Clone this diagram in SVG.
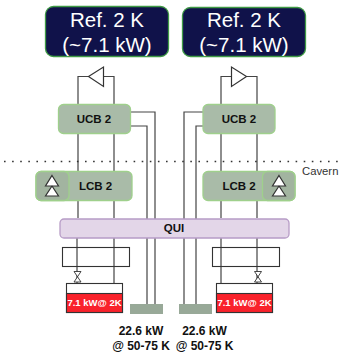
<svg xmlns="http://www.w3.org/2000/svg" width="347" height="357" viewBox="0 0 347 357">
<style>
text{font-family:"Liberation Sans",Arial,sans-serif}
.ref{fill:#10124a;stroke:#3f9a45;stroke-width:1.3}
.reft{fill:#fff;font-size:20.500px;text-anchor:middle}
.box{fill:#a9bba8;stroke:#9fd08c;stroke-width:1.3}
.box2{fill:#a2b4a0;stroke:#9fd08c;stroke-width:1.3}
.b{font-weight:700;font-size:11.500px;fill:#111;text-anchor:middle}
.l{font-weight:700;font-size:12px;fill:#111;text-anchor:middle}
.w{fill:none;stroke:#444;stroke-width:1.2}
.hx{fill:#fff;stroke:#333;stroke-width:1.1}
.tri{fill:#fff;stroke:#333;stroke-width:1.2}
.val{fill:#fff;stroke:#333;stroke-width:.9}
.sink{fill:#98a998}
.red{fill:#f9222b;stroke:#333;stroke-width:1.1}
.rt{fill:#fff;font-weight:700;font-size:9.500px;text-anchor:middle}
</style>
<g id="connectors">
<path class="w" d="M78 104V76.500H114V104M78 133V171M114 133V171M78 200V218M114 200V218M77 238V283M114 238V283"/>
<path class="w" d="M131 112H155V304M131 126H147V304"/>
<path class="w" d="M221 104V76.500H257V104M221 133V171M257 133V171M221 200V218M257 200V218M221 238V283M257 238V283"/>
<path class="w" d="M203 112H184V304M203 126H196V304"/>
<path d="M4 161.500H340" fill="none" stroke="#333" stroke-width="1.6" stroke-dasharray="1.600 6.500"/>
</g>
<g id="ref-left"><rect class="ref" x="45.500" y="6.500" width="123" height="50" rx="8"/><text class="reft" x="107" y="26.500">Ref. 2 K</text><text class="reft" x="107" y="51.500">(~7.1 kW)</text></g>
<g id="ref-right"><rect class="ref" x="182.500" y="7.500" width="123" height="49" rx="8"/><text class="reft" x="244" y="26.500">Ref. 2 K</text><text class="reft" x="244" y="51.500">(~7.1 kW)</text></g>
<g id="turbine-left"><path class="tri" d="M103.500 67V86.500L88.500 76.500Z"/></g>
<g id="turbine-right"><path class="tri" d="M231.500 67V86.500L246.500 76.500Z"/></g>
<g id="ucb-left"><rect class="box" x="58.500" y="104.500" width="72" height="29" rx="5"/><text class="b" x="94" y="122.500">UCB 2</text></g>
<g id="ucb-right"><rect class="box" x="203" y="104.500" width="72" height="29" rx="5"/><text class="b" x="239" y="122.500">UCB 2</text></g>
<g id="lcb-left"><rect class="box" x="36" y="171.500" width="96" height="29" rx="5"/><rect class="box2" x="36" y="171.500" width="33" height="29" rx="5"/><path class="tri" d="M52 175.500L58.500 186H45.500ZM52 186L58.500 196H45.500Z"/><text class="b" x="95.500" y="189.500">LCB 2</text></g>
<g id="lcb-right"><rect class="box" x="203" y="171.500" width="92" height="29" rx="5"/><rect class="box2" x="262.500" y="171.500" width="32.500" height="29" rx="5"/><path class="tri" d="M279 175.500L285.500 186H272.500ZM279 186L285.500 196H272.500Z"/><text class="b" x="239" y="189.500">LCB 2</text></g>
<g id="qui"><rect x="60" y="219" width="229" height="19" rx="4" fill="#e3d6e8" stroke="#b79cc6" stroke-width="1.3"/><text class="b" x="174" y="232">QUI</text></g>
<g id="hx-left"><rect x="62.500" y="247.500" width="67" height="19" fill="none" stroke="#333" stroke-width="1.1"/></g>
<g id="hx-right"><rect x="212.500" y="247.500" width="67" height="19" fill="none" stroke="#333" stroke-width="1.1"/></g>
<g id="valve-left"><path class="val" d="M74 271.500H81L74 282H81Z"/></g>
<g id="valve-right"><path class="val" d="M254.500 271.500H261.500L254.500 282H261.500Z"/></g>
<g id="cold-left"><rect class="hx" x="66.500" y="283.500" width="56" height="29"/><rect class="red" x="66.500" y="293.500" width="56" height="19"/><text class="rt" x="94.500" y="306">7.1 kW@ 2K</text></g>
<g id="cold-right"><rect class="hx" x="216.500" y="283.500" width="56" height="29"/><rect class="red" x="216.500" y="293.500" width="56" height="19"/><text class="rt" x="244.500" y="306">7.1 kW@ 2K</text></g>
<g id="sink-left"><rect class="sink" x="130" y="304" width="33" height="10"/></g>
<g id="sink-right"><rect class="sink" x="179" y="304" width="33" height="10"/></g>
<text x="141" y="335" class="l">22.6 kW</text><text x="141" y="349.500" class="l">@ 50-75 K</text>
<text x="204.500" y="335" class="l">22.6 kW</text><text x="204.500" y="349.500" class="l">@ 50-75 K</text>
<text x="302" y="174.500" font-size="11.300" fill="#333">Cavern</text>
</svg>
